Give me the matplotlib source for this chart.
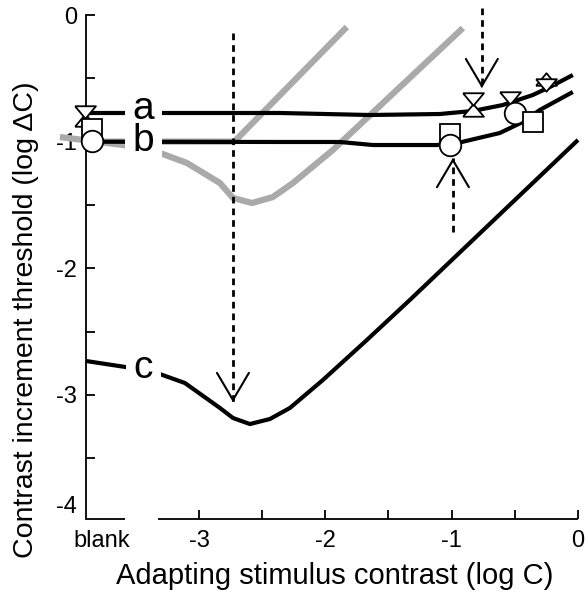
import numpy as np
import matplotlib
matplotlib.use("Agg")
import matplotlib.pyplot as plt

plt.rcParams['font.family'] = ['Liberation Sans', 'DejaVu Sans']

# ---------------- data ----------------
BLANK = -3.894          # x position used for the "blank" condition (axis start)

a_x = [-3.894, -2.359, -1.647, -1.093, -0.832, -0.595, -0.358, -0.223, -0.041]
a_y = [-0.774, -0.774, -0.790, -0.782, -0.758, -0.711, -0.632, -0.569, -0.474]

b_x = [-3.894, -2.359, -1.885, -1.623, -1.117, -0.919, -0.619, -0.437, -0.302, -0.041]
b_y = [-1.001, -1.003, -1.003, -1.027, -1.027, -1.003, -0.932, -0.845, -0.750, -0.608]

c_x = [-3.894, -3.585, -3.332, -3.111, -2.834, -2.731, -2.597, -2.438, -2.280,
       -2.019, -1.671, -1.331, 0.0]
c_y = [-2.733, -2.780, -2.828, -2.907, -3.104, -3.183, -3.231, -3.191, -3.104,
       -2.883, -2.567, -2.251, -0.987]

gray1_x = [-3.894, -2.72, -1.83]
gray1_y = [-1.0, -1.0, -0.095]

gray2_x = [-4.10, -3.60, -3.33, -3.095, -2.834, -2.731, -2.581, -2.415, -2.256,
           -1.940, -0.911]
gray2_y = [-0.964, -1.027, -1.082, -1.169, -1.327, -1.445, -1.485, -1.438, -1.327,
           -1.066, -0.103]

tri_down_x = [-3.902, -0.832, -0.540, -0.255]
tri_down_y = [-0.770, -0.664, -0.652, -0.553]
tri_up_x = [-3.902, -0.832, -0.255]
tri_up_y = [-0.830, -0.750, -0.502]
square_back_x = [-3.846, -1.014]
square_back_y = [-0.900, -0.940]
square_front_x = [-0.358]
square_front_y = [-0.845]
circle_x = [-3.846, -1.014, -0.500]
circle_y = [-0.995, -1.027, -0.774]

arrow_x = [-2.731, -0.761, -0.990]
arrow_from = [-0.142, 0.055, -1.714]
arrow_to = [-3.057, -0.577, -1.130]

ab_label = 'a\nb'
ab_label_xy = (-3.44, -0.87)
c_label = 'c'
c_label_xy = (-3.44, -2.79)

xtick_vals = [-3.77, -3, -2, -1, 0]
xtick_labels = ['blank', '-3', '-2', '-1', '0']
xminor_vals = [-2.5, -1.5, -0.5]
ytick_vals = [0, -1, -2, -3]
ytick_labels = ['0', '-1', '-2', '-3']
yminor_vals = [-0.5, -1.5, -2.5, -3.5]
extra_ylabel_val = -3.886
extra_ylabel = '-4'
break_lo, break_hi = -3.585, -3.324

XLIM = (BLANK, 0.0)
YLIM = (-3.981, 0.0)

# ---------------- figure ----------------
fig = plt.figure(figsize=(5.87, 6.0), dpi=100)
ax = fig.add_axes([86 / 587, 81 / 600, 492 / 587, 504 / 600])
ax.set_xlim(*XLIM)
ax.set_ylim(*YLIM)

GRAY = '#aaaaaa'
ax.plot(gray1_x, gray1_y, color=GRAY, lw=4.5, solid_capstyle='butt', zorder=2, clip_on=False)
ax.plot(gray2_x, gray2_y, color=GRAY, lw=4.5, solid_capstyle='butt', zorder=2, clip_on=False)

for xs, ys in [(a_x, a_y), (b_x, b_y), (c_x, c_y)]:
    ax.plot(xs, ys, color='black', lw=3.0, solid_capstyle='butt', zorder=3, clip_on=False)

# curve labels with white background (makes gaps in the lines)
lab_box = dict(boxstyle='square,pad=0.2', fc='white', ec='none')
ax.text(*ab_label_xy, ab_label, fontsize=28, ha='center', va='center',
        linespacing=0.88, zorder=4, bbox=lab_box)
ax.text(*c_label_xy, c_label, fontsize=28, ha='center', va='center',
        zorder=4, bbox=lab_box)

# dashed arrows
for x, y0, y1 in zip(arrow_x, arrow_from, arrow_to):
    ax.plot([x, x], [y0, y1], color='black', lw=2.0, linestyle=(0, (2.4, 1.8)),
            zorder=5, clip_on=False)
    d = 0.02 if y1 < y0 else -0.02
    ax.annotate('', xy=(x, y1), xytext=(x, y1 + d),
                arrowprops=dict(arrowstyle='->,head_length=1.95,head_width=1.15',
                                lw=1.5, color='black', shrinkA=0, shrinkB=0,
                                mutation_scale=10),
                zorder=5, annotation_clip=False)

# markers
tri_path = [(-1, 0.6), (1, 0.6), (0, -0.6), (-1, 0.6)]
tri_up_path = [(-1, -0.6), (1, -0.6), (0, 0.6), (-1, -0.6)]
mk = dict(mfc='white', mec='black', mew=1.3, linestyle='none', clip_on=False)
ax.plot(tri_up_x, tri_up_y, marker=tri_up_path, ms=15, zorder=6, **mk)
ax.plot(tri_down_x, tri_down_y, marker=tri_path, ms=15, zorder=7, **mk)
ax.plot(square_back_x, square_back_y, marker='s', ms=14.5, zorder=8, **mk)
ax.plot(circle_x, circle_y, marker='o', ms=15.5, zorder=9, **mk)
ax.plot(square_front_x, square_front_y, marker='s', ms=14.5, zorder=10, **mk)

# axes styling
for s in ['top', 'right', 'bottom']:
    ax.spines[s].set_visible(False)
ax.spines['left'].set_linewidth(1.3)
ax.hlines([YLIM[0], YLIM[0]], [XLIM[0], break_hi], [break_lo, XLIM[1]],
          color='black', lw=1.3, clip_on=False, zorder=1)

ax.set_xticks(xtick_vals)
ax.set_xticklabels(xtick_labels)
ax.set_xticks(xminor_vals, minor=True)
ax.set_yticks(ytick_vals)
ax.set_yticklabels(ytick_labels)
ax.set_yticks(yminor_vals, minor=True)
ax.tick_params(axis='both', which='both', direction='in', length=6.5, width=1.3)
ax.tick_params(axis='x', which='major', labelsize=17, pad=8)
ax.tick_params(axis='y', which='major', labelsize=17, pad=6.5)
ax.xaxis.get_major_ticks()[0].tick1line.set_visible(False)

ax.annotate(extra_ylabel, xy=(0, extra_ylabel_val), xycoords=('axes fraction', 'data'),
            xytext=(-6.5, 0), textcoords='offset points', ha='right', va='center',
            fontsize=17, annotation_clip=False)

ax.set_xlabel('Adapting stimulus contrast (log C)', fontsize=21)
ax.xaxis.set_label_coords(0.505, -0.085)
ax.set_ylabel('Contrast increment threshold (log \u0394C)', fontsize=20.5)
ax.yaxis.set_label_coords(-0.096, 0.395)

fig.savefig('out.png', dpi=100)
